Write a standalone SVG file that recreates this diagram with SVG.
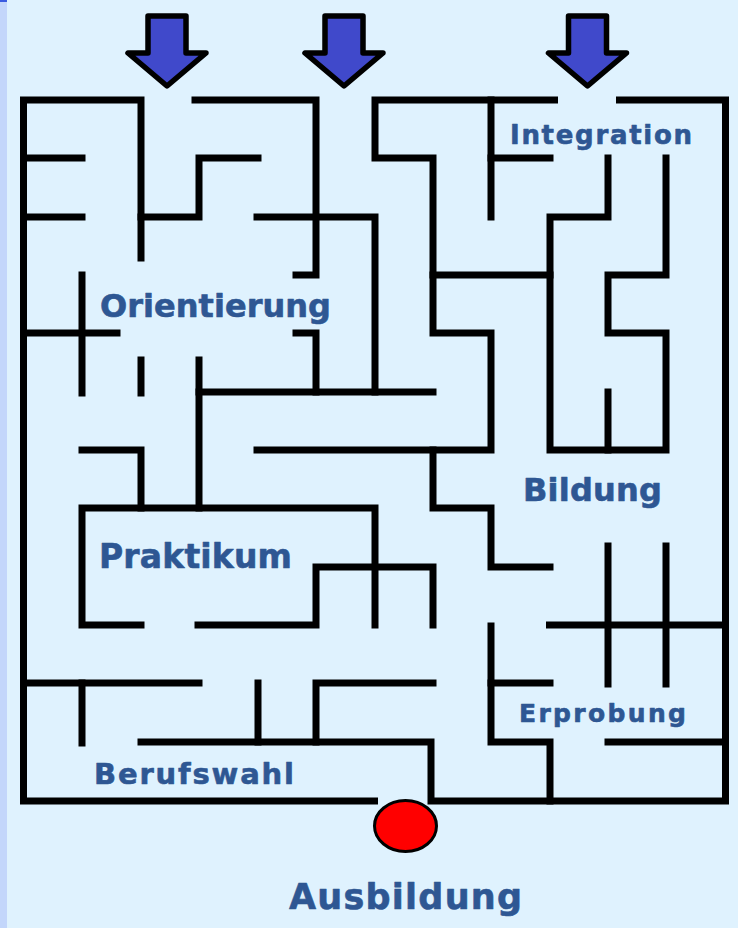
<svg xmlns="http://www.w3.org/2000/svg" width="738" height="928" viewBox="0 0 738 928">
<defs>
<style>
.wall{fill:none;stroke:#000;stroke-width:7;stroke-linecap:square;stroke-linejoin:miter}
.arrow{fill:#4049cb;stroke:#000;stroke-width:5.5;stroke-linejoin:round}
.lbl{font-family:"DejaVu Sans","Liberation Sans",sans-serif;font-weight:bold;fill:#2e5793;stroke:#2e5793;stroke-width:0.6;stroke-linejoin:round}
</style>
<polygon id="arr" class="arrow" points="-19,16 19,16 19,53 39,53 0,86 -39,53 -19,53"/>
</defs>
<rect x="0" y="0" width="738" height="928" fill="#dff2fe"/>
<rect x="0" y="0" width="7" height="928" fill="#c3d6fb"/>
<rect x="0" y="0" width="7" height="2" fill="#3a5be0"/>
<g id="connectors">
<path class="wall" d="M374.5 801 H23.5 V100 H141 V258"/>
<path class="wall" d="M23.5 158 H82"/>
<path class="wall" d="M23.5 217 H82"/>
<path class="wall" d="M141 217 H199 V158 H258"/>
<path class="wall" d="M195 100 H316 V275 H296"/>
<path class="wall" d="M257 217 H375 V392"/>
<path class="wall" d="M296 333 H316 V392"/>
<path class="wall" d="M554.5 100 H375 V158 H433 V333 H491 V450 H257"/>
<path class="wall" d="M433 450 V508 H491 V567 H550"/>
<path class="wall" d="M491 100 V217"/>
<path class="wall" d="M491 158 H550"/>
<path class="wall" d="M608 158 V217 H550 V450 H666 V333 H608 V275 H666 V158"/>
<path class="wall" d="M608 392 V450"/>
<path class="wall" d="M619.5 100 H725.5 V801 H431 V742 H141"/>
<path class="wall" d="M433 275 H550"/>
<path class="wall" d="M82 275 V393"/>
<path class="wall" d="M23.5 333 H117"/>
<path class="wall" d="M141 360 V393"/>
<path class="wall" d="M199 360 V508"/>
<path class="wall" d="M199 392 H433"/>
<path class="wall" d="M82 450 H141 V508"/>
<path class="wall" d="M141 625 H82 V508 H375 V625"/>
<path class="wall" d="M198 625 H316 V567 H433 V625"/>
<path class="wall" d="M23.5 683 H199"/>
<path class="wall" d="M82 683 V743"/>
<path class="wall" d="M258 683 V742"/>
<path class="wall" d="M433 683 H316 V742"/>
<path class="wall" d="M491 626 V742 H550 V801"/>
<path class="wall" d="M491 683 H550"/>
<path class="wall" d="M549.5 625 H725.5"/>
<path class="wall" d="M608 546 V684"/>
<path class="wall" d="M666 546 V684"/>
<path class="wall" d="M608 742 H725.5"/>
</g>
<g id="arrow1"><use href="#arr" x="167" y="0"/></g>
<g id="arrow2"><use href="#arr" x="344" y="0"/></g>
<g id="arrow3"><use href="#arr" x="587.5" y="0"/></g>
<g id="goal"><ellipse cx="405.5" cy="826" rx="31" ry="25.5" fill="#ff0000" stroke="#000" stroke-width="3"/></g>
<g id="label-integration"><text class="lbl" x="510" y="144" font-size="26" textLength="182" lengthAdjust="spacing">Integration</text></g>
<g id="label-orientierung"><text class="lbl" x="100" y="317" font-size="32" textLength="231" lengthAdjust="spacing">Orientierung</text></g>
<g id="label-bildung"><text class="lbl" x="523" y="501" font-size="32" textLength="139" lengthAdjust="spacing">Bildung</text></g>
<g id="label-praktikum"><text class="lbl" x="99" y="568" font-size="33" textLength="193" lengthAdjust="spacing">Praktikum</text></g>
<g id="label-erprobung"><text class="lbl" x="519" y="722" font-size="25" textLength="167" lengthAdjust="spacing">Erprobung</text></g>
<g id="label-berufswahl"><text class="lbl" x="94" y="784" font-size="29" textLength="200" lengthAdjust="spacing">Berufswahl</text></g>
<g id="label-ausbildung"><text class="lbl" x="289" y="909" font-size="35" textLength="233" lengthAdjust="spacing">Ausbildung</text></g>
</svg>
